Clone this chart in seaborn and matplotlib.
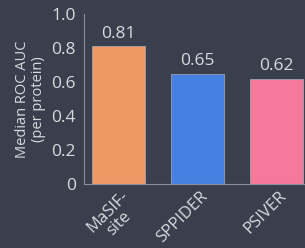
import matplotlib
matplotlib.use("Agg")
import matplotlib.pyplot as plt
import matplotlib.transforms as mtransforms
import seaborn as sns
import pandas as pd

# data
methods = ["MaSIF-\nsite", "SPPIDER", "PSIVER"]
auc = [0.81, 0.65, 0.62]
colors = ["#EE9866", "#4680E0", "#F6789A"]

bg = "#3a3f4e"
fg = "#d9dadd"

sns.set_theme(style="white")
plt.rcParams['font.family'] = ['Open Sans', 'DejaVu Sans']

df = pd.DataFrame({"method": methods, "auc": auc})

fig = plt.figure(figsize=(3.05, 2.48), dpi=100, facecolor=bg)
ax = fig.add_axes([84 / 305, 64 / 248, 1 - 84 / 305, 170 / 248])
ax.set_facecolor(bg)

sns.barplot(data=df, x="method", y="auc", hue="method", palette=colors,
            saturation=1, legend=False, width=0.67, edgecolor="#a9aeb6",
            linewidth=0.5, ax=ax)

for i, v in enumerate(auc):
    ax.text(i, v + 0.025, f"{v:.2f}", ha="center", va="bottom",
            color=fg, fontsize=12.5)

ax.set_xlim(-0.437, 2.36)
ax.set_ylim(0, 1.0)
ax.set_yticks([0, 0.2, 0.4, 0.6, 0.8, 1.0])
ax.set_yticklabels(["0", "0.2", "0.4", "0.6", "0.8", "1.0"])
ax.set_xlabel("")
ax.set_ylabel("Median ROC AUC\n(per protein)", color=fg, fontsize=10.5,
              labelpad=4, linespacing=1.05)

for s in ["top", "right"]:
    ax.spines[s].set_visible(False)
for s in ["left", "bottom"]:
    ax.spines[s].set_color("#8a8f99")
    ax.spines[s].set_linewidth(0.8)

ax.tick_params(axis="y", colors=fg, labelsize=12.5, length=0, pad=6)
ax.tick_params(axis="x", colors=fg, labelsize=12, length=0, pad=3)

offset = mtransforms.ScaledTranslation(2 / 100, 0, fig.dpi_scale_trans)
for lbl in ax.get_xticklabels():
    lbl.set_rotation(45)
    lbl.set_ha("right")
    lbl.set_rotation_mode("anchor")
    lbl.set_multialignment("center")
    lbl.set_linespacing(1.0)
    lbl.set_transform(lbl.get_transform() + offset)

fig.savefig("out.png", dpi=100, facecolor=bg)
